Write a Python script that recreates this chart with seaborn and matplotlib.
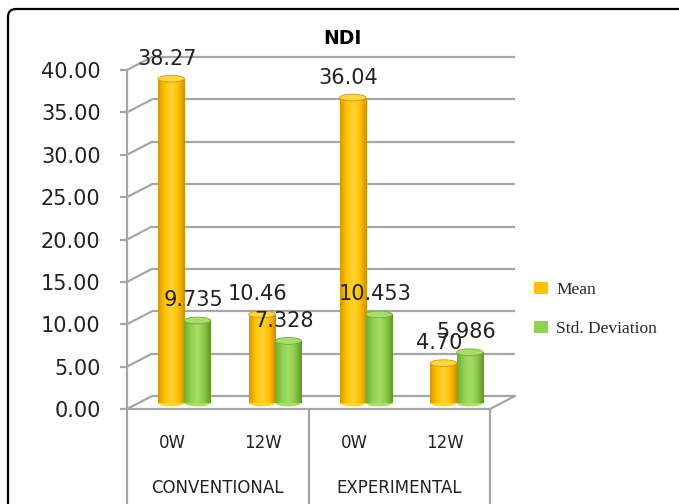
import numpy as np
import pandas as pd
import seaborn as sns
import matplotlib
matplotlib.use("Agg")
import matplotlib.pyplot as plt
from matplotlib import transforms
from matplotlib.patches import FancyBboxPatch, Ellipse, Patch
from matplotlib.colors import LinearSegmentedColormap

# ---------------- data ----------------
groups = ["CONVENTIONAL", "EXPERIMENTAL"]
weeks = ["0W", "12W", "0W", "12W"]
keys = ["CONVENTIONAL 0W", "CONVENTIONAL 12W", "EXPERIMENTAL 0W", "EXPERIMENTAL 12W"]
series = ["Mean", "Std. Deviation"]
mean_vals = [38.27, 10.46, 36.04, 4.70]
std_vals = [9.735, 7.328, 10.453, 5.986]
mean_labels = ["38.27", "10.46", "36.04", "4.70"]
std_labels = ["9.735", "7.328", "10.453", "5.986"]
yticks = [0, 5, 10, 15, 20, 25, 30, 35, 40]
title = "NDI"

# ---------------- style ----------------
sns.set_theme(style="white")
plt.rcParams["font.family"] = ["DejaVu Sans"]
GRID = "#A6A6A6"
TXT = "#222222"
mean_col = "#FFC000"
std_col = "#92D050"

W, H, DPI = 679, 504, 100
fig = plt.figure(figsize=(W / DPI, H / DPI), dpi=DPI)
fig.patch.set_facecolor("white")
ax = fig.add_axes([127 / W, 1 - 409 / H, 363 / W, 339 / H])
ax.set_facecolor("none")

df = pd.DataFrame({
    "key": keys * 2,
    "value": mean_vals + std_vals,
    "stat": [series[0]] * 4 + [series[1]] * 4,
})
sns.barplot(data=df, x="key", y="value", hue="stat", order=keys, hue_order=series,
            palette=[mean_col, std_col], width=0.58, saturation=1, ax=ax,
            linewidth=0, zorder=3)
leg = ax.get_legend()
if leg is not None:
    leg.remove()

ax.set_xlim(-0.5, 3.5)
ax.set_ylim(0, 40)

# depth offsets (pixels) converted to data units
px_x = (363 / 4)
px_y = (339 / 40)
dx, dy = 25 / px_x, 13 / px_y

# back wall gridlines and left diagonals
for v in yticks:
    ax.plot([-0.5 + dx, 3.5 + dx], [v + dy, v + dy], color=GRID, lw=1.6,
            clip_on=False, zorder=1, solid_capstyle="butt")
    ax.plot([-0.5, -0.5 + dx], [v, v + dy], color=GRID, lw=1.6,
            clip_on=False, zorder=1)
# floor right diagonal
ax.plot([3.5, 3.5 + dx], [0, dy], color=GRID, lw=1.6, clip_on=False, zorder=1)

# bars as cylinders
half = transforms.ScaledTranslation(12 / DPI, 6 / DPI, fig.dpi_scale_trans)
cmap_list = [
    LinearSegmentedColormap.from_list(
        "m", ["#D89800", "#FFC400", "#FFD236", "#FFC000", "#D08E00"]),
    LinearSegmentedColormap.from_list(
        "s", ["#6FAE30", "#92D050", "#A6DE66", "#8CC848", "#5C9A26"]),
]
top_list = ["#FFD44A", "#A8DC6C"]
label_list = [mean_labels, std_labels]
grad = np.linspace(0, 1, 64).reshape(1, -1)

for si, cont in enumerate(ax.containers[:2]):
    for bi, bar in enumerate(cont):
        x0, w, h = bar.get_x(), bar.get_width(), bar.get_height()
        cm = cmap_list[si]
        bar.set_transform(ax.transData + half)
        bar.set_clip_on(False)
        im = ax.imshow(grad, extent=[x0, x0 + w, 0, h], aspect="auto",
                       cmap=cm, zorder=3.5, interpolation="bilinear")
        im.set_transform(ax.transData + half)
        im.set_clip_path(bar)
        e = Ellipse((x0 + w / 2, h), width=w, height=0.8, facecolor=top_list[si],
                    edgecolor=cm(0.0), lw=0.6, zorder=4, clip_on=False,
                    transform=ax.transData + half)
        ax.add_patch(e)
        e2 = Ellipse((x0 + w / 2, 0), width=w, height=0.8, facecolor=cm(0.5),
                     lw=0, zorder=3.4, clip_on=False, transform=ax.transData + half)
        ax.add_patch(e2)
        ax.annotate(label_list[si][bi], xy=(x0 + w / 2, h),
                    xytext=(8 * 0.72, 26 * 0.72),
                    textcoords="offset points", ha="center", va="center",
                    fontsize=15, color=TXT, zorder=6, annotation_clip=False)

ax.set_xlim(-0.5, 3.5)
ax.set_ylim(0, 40)

# axes styling
for s in ["top", "right"]:
    ax.spines[s].set_visible(False)
ax.spines["left"].set_color(GRID)
ax.spines["left"].set_linewidth(1.6)
ax.spines["bottom"].set_color(GRID)
ax.spines["bottom"].set_linewidth(1.6)
ax.set_yticks(yticks)
ax.set_yticklabels([f"{v:.2f}" for v in yticks])
ax.tick_params(axis="y", length=5, width=1.6, color=GRID, pad=14,
               labelsize=15, labelcolor=TXT, left=True)
ax.set_xticks(range(4))
ax.set_xticklabels(weeks)
ax.tick_params(axis="x", length=0, pad=18, labelsize=12, labelcolor=TXT)
ax.set_xlabel("")
ax.set_ylabel("")

# category table lines
bt = transforms.blended_transform_factory(ax.transData, ax.transAxes)
for xv in [-0.5, 1.5, 3.5]:
    ax.plot([xv, xv], [0, -0.35], color=GRID, lw=1.6, transform=bt, clip_on=False)
for gi, g in enumerate(groups):
    ax.text(0.5 + 2 * gi, -0.233, g, transform=bt, ha="center", va="center",
            fontsize=12, color=TXT)

# title
fig.text(342 / W, 1 - 38 / H, title, ha="center", va="center",
         fontsize=13.5, fontweight="bold", color="black")

# legend
handles = [Patch(facecolor=mean_col, edgecolor="none"),
           Patch(facecolor=std_col, edgecolor="none")]
fig.legend(handles, series, loc="upper left", bbox_to_anchor=(518 / W, 1 - 266 / H),
           frameon=False, prop={"family": "Liberation Serif", "size": 12.5},
           handlelength=0.85, handleheight=0.75, labelspacing=1.3, handletextpad=0.45)

# outer rounded border (right and bottom edges lie outside the image)
border = FancyBboxPatch((0.08, -3.0), 20.0, 4.95 + 3.0,
                        boxstyle="round,pad=0,rounding_size=0.08",
                        transform=fig.dpi_scale_trans, fill=False,
                        edgecolor="black", lw=1.6)
fig.add_artist(border)

fig.savefig("out.png", dpi=DPI)
